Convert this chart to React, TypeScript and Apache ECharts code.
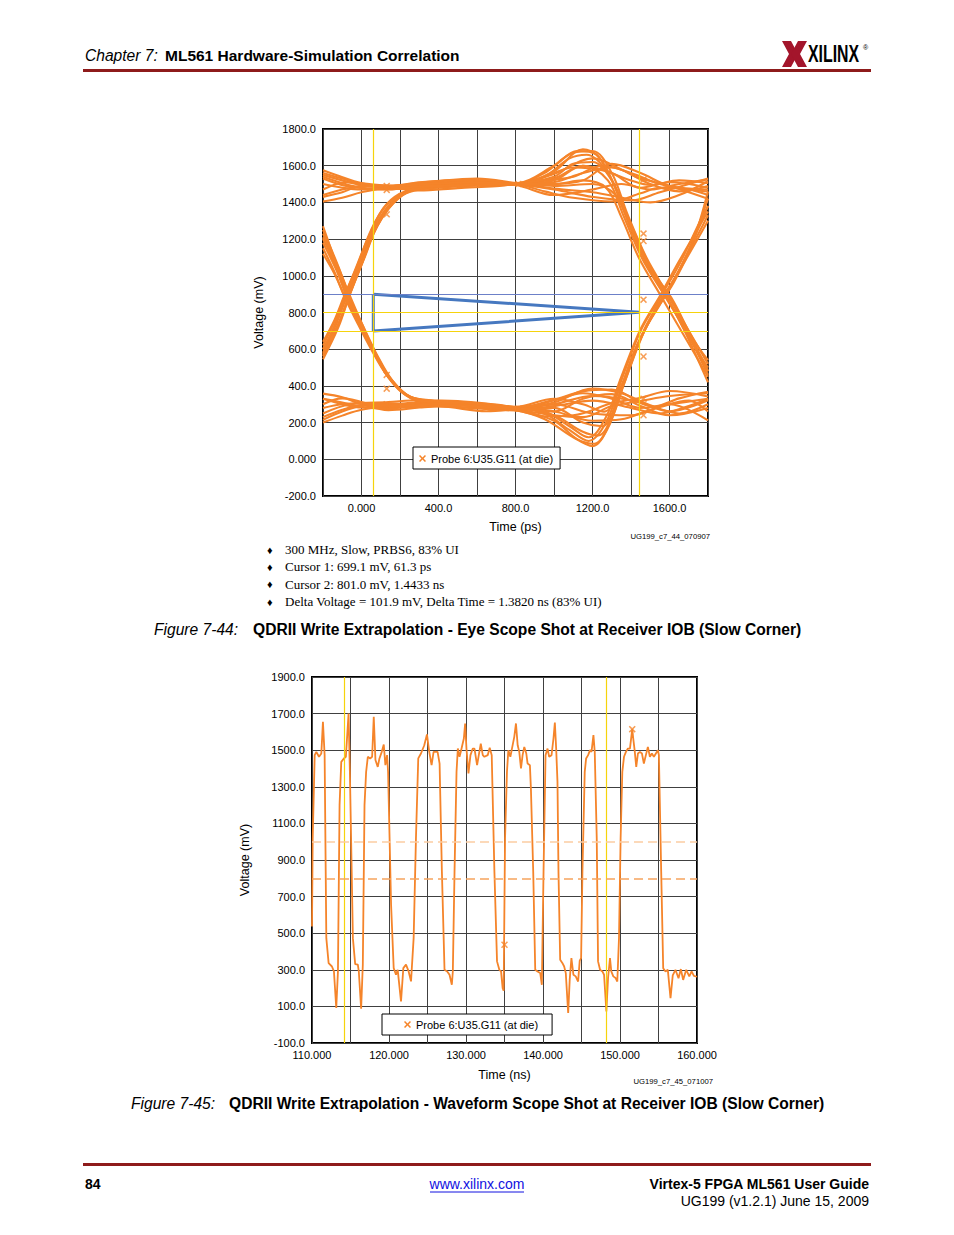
import React, { useEffect, useRef } from 'react';
import * as echarts from 'echarts';

const PROBE = 'Probe 6:U35.G11 (at die)';
const ORANGE = '#F5842A';
const YELLOW = '#F6D30C';
const BLUE = '#4678C0';
const GRIDC = '#404040';
const X_PATH = 'path://M0,1.5L1.5,0L5,3.5L8.5,0L10,1.5L6.5,5L10,8.5L8.5,10L5,6.5L1.5,10L0,8.5L3.5,5Z';
const SANS = "'Liberation Sans', Arial, Helvetica, sans-serif";
const SERIF = "'Liberation Serif', 'Times New Roman', serif";

// ---------- Eye diagram (Figure 7-44) ----------
const eyeXLabelled = [0, 400, 800, 1200, 1600];
const eyeCursorTimes = [61.3, 1443.3];
const eyeCursorVolts = [699.1, 801.0];
const eyeMaskLevel = 900;
const eyeMask = [[61.3, 900], [1443.3, 801.0], [61.3, 699.1], [61.3, 900]];

const eyeStayHigh = [
  [[-200, 1575], [-120, 1545], [0, 1505], [140, 1482], [300, 1490], [500, 1505], [700, 1512], [800, 1502], [950, 1540], [1100, 1590], [1250, 1575], [1400, 1520], [1500, 1495], [1650, 1520], [1800, 1505]],
  [[-200, 1405], [-100, 1425], [0, 1455], [140, 1478], [300, 1465], [500, 1478], [700, 1488], [800, 1498], [950, 1460], [1100, 1425], [1300, 1405], [1450, 1450], [1550, 1480], [1700, 1470], [1800, 1440]],
  [[-200, 1530], [-80, 1490], [140, 1470], [300, 1500], [500, 1522], [650, 1515], [800, 1497], [1000, 1510], [1150, 1560], [1300, 1590], [1450, 1530], [1600, 1490], [1800, 1420]],
  [[-200, 1470], [-80, 1510], [140, 1492], [350, 1512], [600, 1530], [800, 1505], [1000, 1475], [1200, 1455], [1380, 1420], [1500, 1400], [1650, 1440], [1800, 1515]],
  [[-200, 1550], [-100, 1520], [0, 1495], [140, 1478], [300, 1485], [500, 1495], [700, 1500], [800, 1500], [950, 1520], [1100, 1540], [1250, 1600], [1400, 1560], [1550, 1500], [1700, 1470], [1800, 1460]],
  [[-200, 1440], [-100, 1470], [0, 1488], [140, 1484], [300, 1475], [500, 1488], [700, 1500], [800, 1495], [1000, 1440], [1200, 1470], [1350, 1500], [1500, 1470], [1650, 1500], [1800, 1525]],
];

const eyeStayLow = [
  [[-200, 200], [-100, 238], [0, 270], [140, 288], [300, 302], [500, 312], [700, 292], [800, 280], [1000, 325], [1150, 370], [1300, 380], [1450, 310], [1600, 262], [1800, 322]],
  [[-200, 358], [-100, 338], [0, 300], [140, 268], [300, 282], [500, 298], [700, 268], [800, 266], [950, 235], [1100, 240], [1300, 305], [1450, 335], [1600, 372], [1800, 342]],
  [[-200, 250], [-60, 300], [140, 312], [300, 322], [500, 318], [700, 298], [800, 284], [1000, 262], [1200, 210], [1350, 218], [1480, 262], [1600, 300], [1800, 212]],
  [[-200, 300], [-100, 332], [140, 280], [400, 288], [650, 262], [800, 276], [1000, 300], [1200, 345], [1400, 322], [1520, 288], [1650, 332], [1800, 368]],
  [[-200, 330], [-100, 300], [0, 282], [140, 295], [300, 310], [500, 300], [700, 285], [800, 278], [1000, 260], [1150, 330], [1300, 355], [1450, 290], [1600, 240], [1800, 280]],
  [[-200, 215], [-100, 260], [0, 290], [140, 305], [300, 295], [500, 285], [700, 275], [800, 272], [1000, 290], [1200, 320], [1400, 280], [1550, 250], [1700, 290], [1800, 330]],
];

const eyeRiseThenHigh = [
  [[-200, 580], [-130, 740], [-76, 890], [0, 1075], [61, 1235], [140, 1370], [230, 1455], [330, 1492], [500, 1500], [700, 1515], [800, 1500], [1000, 1530], [1150, 1600], [1300, 1560], [1450, 1480], [1600, 1510], [1800, 1480]],
  [[-200, 640], [-140, 760], [-90, 890], [-20, 1060], [50, 1250], [130, 1390], [230, 1462], [350, 1480], [550, 1490], [800, 1495], [1000, 1470], [1200, 1430], [1400, 1410], [1550, 1455], [1800, 1530]],
  [[-200, 545], [-120, 720], [-60, 900], [20, 1110], [80, 1270], [160, 1400], [260, 1470], [400, 1505], [650, 1520], [800, 1503], [1000, 1555], [1200, 1640], [1350, 1580], [1500, 1500], [1650, 1460], [1800, 1490]],
  [[-200, 600], [-150, 700], [-100, 850], [-30, 1040], [40, 1220], [120, 1375], [220, 1450], [330, 1485], [550, 1505], [800, 1498], [1000, 1500], [1150, 1520], [1300, 1610], [1450, 1560], [1600, 1490], [1800, 1470]],
];

const eyeRiseThenFall = [
  [[-200, 600], [-130, 750], [-76, 895], [0, 1070], [61, 1230], [140, 1365], [240, 1460], [350, 1485], [550, 1498], [800, 1500], [950, 1560], [1100, 1670], [1200, 1680], [1300, 1560], [1380, 1340], [1480, 1100], [1590, 900], [1700, 700], [1800, 520]],
  [[-200, 560], [-110, 760], [-60, 900], [10, 1090], [70, 1250], [150, 1385], [250, 1468], [400, 1490], [600, 1510], [800, 1497], [1000, 1520], [1150, 1600], [1280, 1520], [1360, 1330], [1460, 1090], [1570, 900], [1690, 690], [1800, 460]],
  [[-200, 620], [-140, 750], [-85, 890], [-10, 1070], [55, 1240], [135, 1375], [230, 1450], [380, 1480], [600, 1495], [800, 1502], [1000, 1490], [1200, 1500], [1320, 1440], [1400, 1260], [1500, 1040], [1610, 880], [1720, 660], [1800, 540]],
  [[-200, 570], [-120, 740], [-70, 880], [5, 1075], [65, 1235], [145, 1372], [240, 1455], [360, 1485], [600, 1500], [800, 1500], [950, 1540], [1080, 1640], [1170, 1660], [1280, 1560], [1360, 1360], [1450, 1130], [1560, 920], [1680, 720], [1800, 480]],
];

const eyeFallThenLow = [
  [[-200, 1210], [-130, 1040], [-76, 885], [0, 720], [61, 590], [140, 445], [230, 350], [330, 305], [500, 300], [700, 292], [800, 278], [1000, 310], [1200, 385], [1350, 360], [1500, 295], [1650, 250], [1800, 300]],
  [[-200, 1150], [-140, 1020], [-90, 890], [-20, 740], [50, 600], [130, 460], [230, 355], [350, 315], [550, 305], [800, 272], [1000, 240], [1150, 230], [1300, 290], [1450, 318], [1600, 345], [1800, 360]],
  [[-200, 1250], [-120, 1050], [-60, 880], [20, 700], [80, 570], [160, 430], [260, 335], [400, 300], [650, 275], [800, 282], [1000, 300], [1200, 250], [1400, 240], [1550, 285], [1700, 320], [1800, 260]],
  [[-200, 1270], [-150, 1120], [-100, 960], [-30, 800], [40, 640], [120, 480], [220, 360], [330, 312], [550, 298], [800, 276], [1000, 320], [1150, 360], [1300, 330], [1450, 280], [1600, 300], [1800, 330]],
];

const eyeFallThenRise = [
  [[-200, 1180], [-130, 1030], [-76, 888], [0, 725], [61, 595], [140, 450], [240, 345], [350, 310], [550, 300], [800, 268], [950, 220], [1100, 120], [1200, 72], [1280, 170], [1360, 400], [1460, 680], [1560, 860], [1660, 1050], [1800, 1330]],
  [[-200, 1230], [-110, 1020], [-60, 890], [10, 720], [70, 585], [150, 440], [250, 342], [400, 312], [600, 298], [800, 285], [1000, 240], [1150, 150], [1230, 130], [1310, 260], [1400, 540], [1500, 760], [1600, 930], [1700, 1140], [1800, 1420]],
  [[-200, 1120], [-140, 1010], [-85, 885], [-10, 735], [55, 600], [135, 455], [230, 350], [380, 318], [600, 285], [800, 274], [1000, 280], [1150, 200], [1250, 180], [1330, 330], [1420, 590], [1520, 800], [1620, 960], [1720, 1180], [1800, 1460]],
  [[-200, 1200], [-120, 1035], [-70, 885], [5, 722], [65, 592], [145, 448], [245, 343], [380, 308], [600, 292], [800, 280], [950, 250], [1080, 160], [1180, 100], [1270, 200], [1350, 430], [1450, 700], [1550, 880], [1650, 1060], [1760, 1300], [1800, 1380]],
];

const eyeLowThenRise = [
  [[-200, 230], [-100, 270], [0, 295], [140, 300], [300, 288], [500, 295], [700, 280], [800, 272], [1000, 210], [1120, 110], [1210, 85], [1290, 200], [1370, 430], [1470, 700], [1570, 890], [1680, 1080], [1800, 1300]],
  [[-200, 330], [-100, 310], [0, 285], [140, 276], [300, 300], [600, 305], [800, 286], [1000, 330], [1150, 300], [1260, 260], [1340, 380], [1430, 620], [1530, 830], [1630, 990], [1730, 1210], [1800, 1380]],
  [[-200, 280], [-100, 300], [0, 305], [140, 290], [300, 295], [500, 310], [700, 288], [800, 278], [950, 260], [1080, 180], [1180, 120], [1270, 230], [1350, 450], [1450, 710], [1550, 890], [1650, 1080], [1800, 1350]],
];

const eyeHighThenFall = [
  [[-200, 1540], [-100, 1505], [0, 1480], [140, 1472], [300, 1488], [500, 1492], [700, 1508], [800, 1500], [1000, 1570], [1150, 1690], [1230, 1650], [1320, 1480], [1400, 1280], [1500, 1050], [1600, 880], [1700, 690], [1800, 480]],
  [[-200, 1430], [-100, 1455], [0, 1490], [140, 1488], [300, 1510], [600, 1525], [800, 1506], [1000, 1540], [1100, 1610], [1200, 1620], [1300, 1520], [1370, 1350], [1460, 1120], [1560, 930], [1660, 740], [1800, 420]],
  [[-200, 1500], [-100, 1480], [0, 1470], [140, 1480], [300, 1500], [500, 1510], [700, 1500], [800, 1502], [1000, 1600], [1120, 1680], [1220, 1660], [1310, 1500], [1390, 1300], [1480, 1080], [1580, 900], [1680, 700], [1800, 500]],
  [[-200, 1560], [-100, 1530], [0, 1500], [140, 1490], [300, 1498], [600, 1510], [800, 1500], [1000, 1500], [1150, 1520], [1270, 1480], [1350, 1320], [1440, 1100], [1550, 900], [1650, 720], [1800, 450]],
];

const eyeMarkers = [
  [131, 1490], [131, 1468], [131, 1335], [131, 460], [131, 385], [131, 300], [815, 1500], [815, 276],
  [1465, 1525], [1465, 1230], [1465, 1190], [1465, 870], [1465, 560], [1465, 330], [1465, 240],
];

// ---------- Waveform (Figure 7-45) ----------
const waveYTicks = [-100, 100, 300, 500, 700, 900, 1100, 1300, 1500, 1700, 1900];
const waveXLabelled = [110, 120, 130, 140, 150, 160];
const waveCursorTimes = [114.2, 148.2];
const waveThresholdHi = 1000;
const waveThresholdLo = 800;
const waveMarkers = [[135.0, 437], [151.59, 1615]];

const waveTimes = [
  110.00, 110.09, 110.35, 110.56, 110.91, 111.21, 111.42, 111.64, 111.86, 112.16,
  112.59, 112.85, 113.15, 113.37, 113.58, 113.80, 114.14, 114.40, 114.75, 114.92,
  115.31, 115.61, 115.95, 116.08, 116.38, 116.60, 116.82, 117.03, 117.25, 117.55,
  117.81, 118.02, 118.24, 118.54, 118.76, 119.06, 119.32, 119.53, 119.75, 119.88,
  120.27, 120.61, 120.91, 121.13, 121.56, 121.86, 122.21, 122.55, 122.86, 123.20,
  123.50, 123.80, 124.15, 124.58, 124.93, 125.23, 125.53, 125.79, 126.31, 126.57,
  126.87, 127.21, 127.56, 127.86, 128.16, 128.29, 128.51, 128.77, 128.94, 129.16,
  129.37, 129.72, 129.89, 130.06, 130.32, 130.58, 130.88, 131.10, 131.44, 131.66,
  131.92, 132.18, 132.39, 132.82, 133.08, 133.34, 133.69, 134.03, 134.33, 134.55,
  134.76, 134.89, 135.07, 135.32, 135.50, 135.76, 135.93, 136.27, 136.49, 136.71,
  136.92, 137.14, 137.35, 137.57, 137.83, 138.00, 138.30, 138.43, 138.73, 138.99,
  139.29, 139.64, 139.85, 140.07, 140.33, 140.59, 140.80, 141.11, 141.36, 141.54,
  141.71, 141.88, 142.01, 142.23, 142.53, 142.75, 142.96, 143.27, 143.47, 143.69,
  143.95, 144.25, 144.56, 144.77, 144.95, 145.12, 145.42, 145.60, 145.86, 146.11,
  146.30, 146.55, 146.72, 146.98, 147.15, 147.41, 147.71, 147.93, 148.23, 148.45,
  148.70, 148.87, 149.13, 149.43, 149.65, 149.87, 150.08, 150.30, 150.52, 150.77,
  151.03, 151.29, 151.59, 151.72, 151.90, 152.11, 152.33, 152.59, 152.85, 153.10,
  153.36, 153.62, 153.88, 154.14, 154.40, 154.66, 154.92, 155.05, 155.35, 155.61,
  155.91, 156.21, 156.56, 156.85, 157.20, 157.60, 157.90, 158.20, 158.60, 159.00,
  159.30, 159.60, 160.00,
];

const waveMv = [
  537, 1018, 1473, 1491, 1464, 1482, 1655, 1473, 473, 336,
  318, 291, 91, 291, 1200, 1436, 1455, 1464, 1700, 1382,
  473, 331, 328, 291, 87, 328, 1200, 1382, 1464, 1455,
  1464, 1682, 1446, 1409, 1455, 1491, 1531, 1418, 1473, 1382,
  655, 309, 273, 300, 127, 309, 328, 291, 237, 473,
  1018, 1455, 1482, 1527, 1586, 1491, 1418, 1491, 1491, 1427,
  836, 300, 291, 273, 218, 291, 836, 1382, 1509, 1464,
  1500, 1564, 1646, 1509, 1373, 1473, 1509, 1509, 1418, 1473,
  1536, 1473, 1464, 1473, 1513, 1473, 836, 346, 300, 291,
  200, 186, 1018, 1382, 1500, 1464, 1500, 1573, 1646, 1527,
  1491, 1400, 1473, 1518, 1482, 1427, 1418, 1291, 836, 300,
  291, 282, 218, 836, 1473, 1509, 1464, 1473, 1564, 1651,
  1509, 1327, 836, 355, 336, 318, 282, 64, 246, 364,
  273, 264, 236, 350, 364, 836, 1382, 1455, 1473, 1500,
  1491, 1582, 1491, 1018, 346, 300, 291, 273, 73, 255,
  364, 291, 264, 255, 236, 473, 1018, 1382, 1464, 1491,
  1509, 1509, 1615, 1564, 1500, 1409, 1482, 1491, 1482, 1427,
  1473, 1518, 1464, 1482, 1464, 1482, 1500, 1473, 836, 309,
  291, 300, 145, 270, 300, 254, 304, 245, 300, 264,
  291, 267, 262,
];

// ---------- Page texts ----------
const bulletLines = [
  '300 MHz, Slow, PRBS6, 83% UI',
  'Cursor 1: 699.1 mV, 61.3 ps',
  'Cursor 2: 801.0 mV, 1.4433 ns',
  'Delta Voltage = 101.9 mV, Delta Time = 1.3820 ns (83% UI)',
];

function txt(text: string, x: number, y: number, o: any = {}) {
  return {
    type: 'text', x, y, silent: true, z: 10,
    scaleX: o.scaleX || 1,
    style: {
      text, fill: o.fill || '#000', fontSize: o.size || 15, fontFamily: o.family || SANS,
      fontWeight: o.weight || 'normal', fontStyle: o.style || 'normal',
      align: o.align || 'left', verticalAlign: 'middle',
    },
  };
}

function buildOption() {
  const eyeTraces = [
    ...eyeStayHigh, ...eyeStayLow, ...eyeRiseThenHigh, ...eyeRiseThenFall,
    ...eyeFallThenLow, ...eyeFallThenRise, ...eyeLowThenRise, ...eyeHighThenFall,
  ];
  const eyeSeries = eyeTraces.map((d) => ({
    type: 'line', name: PROBE, xAxisIndex: 0, yAxisIndex: 0, data: d,
    smooth: 0.35, symbol: 'none', silent: true,
    lineStyle: { color: ORANGE, width: 2.1 }, itemStyle: { color: ORANGE }, z: 2,
  }));

  const eyeFmt = (v: number) => (v === 0 ? '0.000' : v.toFixed(1));
  const cursorLine = (c: string, w: number) => ({ color: c, width: w, type: 'solid' });

  const series: any[] = [
    ...eyeSeries,
    {
      type: 'line', name: 'mask', xAxisIndex: 0, yAxisIndex: 0, data: eyeMask,
      symbol: 'none', silent: true, lineStyle: { color: BLUE, width: 3 }, z: 4,
      markLine: {
        silent: true, symbol: ['none', 'none'], label: { show: false }, animation: false,
        data: [
          ...eyeCursorTimes.map((t) => ({ xAxis: t, lineStyle: cursorLine(YELLOW, 1.2) })),
          ...eyeCursorVolts.map((v) => ({ yAxis: v, lineStyle: cursorLine(YELLOW, 1.2) })),
          { yAxis: eyeMaskLevel, lineStyle: cursorLine('#6C80C8', 1) },
        ],
      },
    },
    {
      type: 'scatter', name: PROBE, xAxisIndex: 0, yAxisIndex: 0, data: eyeMarkers,
      symbol: X_PATH, symbolSize: 7, silent: true, itemStyle: { color: ORANGE }, z: 3,
    },
    {
      type: 'line', name: PROBE, xAxisIndex: 1, yAxisIndex: 1,
      data: waveTimes.map((t, i) => [t, waveMv[i]]),
      symbol: 'none', silent: true, lineStyle: { color: ORANGE, width: 1.8 }, itemStyle: { color: ORANGE }, z: 3,
      markLine: {
        silent: true, symbol: ['none', 'none'], label: { show: false }, animation: false,
        data: [
          ...waveCursorTimes.map((t) => ({ xAxis: t, lineStyle: cursorLine(YELLOW, 1.2) })),
          { yAxis: waveThresholdHi, lineStyle: { color: '#FBCDA3', width: 1.5, type: [9, 5] } },
          { yAxis: waveThresholdLo, lineStyle: { color: '#F6A45E', width: 1.5, type: [9, 5] } },
        ],
      },
    },
    {
      type: 'scatter', name: PROBE, xAxisIndex: 1, yAxisIndex: 1, data: waveMarkers,
      symbol: X_PATH, symbolSize: 7, silent: true, itemStyle: { color: ORANGE }, z: 4,
    },
  ];

  const graphic: any[] = [
    // header
    txt('Chapter 7:', 85, 55, { style: 'italic', size: 15.6 }),
    txt('ML561 Hardware-Simulation Correlation', 165, 55, { weight: 'bold', size: 15.5 }),
    { type: 'rect', silent: true, shape: { x: 83, y: 69, width: 788, height: 3 }, style: { fill: '#8E1B1B' } },
    // logo
    { type: 'polygon', silent: true, shape: { points: [[782, 41], [791, 41], [798, 54], [791, 67], [782, 67], [789, 54]] }, style: { fill: '#A3152B' } },
    { type: 'polygon', silent: true, shape: { points: [[807, 41], [798, 41], [791, 54], [798, 67], [807, 67], [800, 54]] }, style: { fill: '#A3152B' } },
    txt('XILINX', 808, 54, { weight: 'bold', size: 24, scaleX: 0.66 }),
    txt('®', 863, 47, { size: 7 }),
    // figure 1 extra texts
    txt('UG199_c7_44_070907', 710, 536, { size: 7.7, align: 'right' }),
    ...bulletLines.flatMap((l, i) => [
      txt('♦', 267, 549.5 + i * 17.4, { size: 11, family: SANS }),
      txt(l, 285, 549.5 + i * 17.4, { size: 13, family: SERIF }),
    ]),
    txt('Figure 7-44:', 154, 629, { style: 'italic', size: 15.6 }),
    txt('QDRII Write Extrapolation - Eye Scope Shot at Receiver IOB (Slow Corner)', 253, 629, { weight: 'bold', size: 15.6 }),
    // figure 2 extra texts
    txt('UG199_c7_45_071007', 713, 1081, { size: 7.7, align: 'right' }),
    txt('Figure 7-45:', 131, 1103, { style: 'italic', size: 15.6 }),
    txt('QDRII Write Extrapolation - Waveform Scope Shot at Receiver IOB (Slow Corner)', 229, 1103, { weight: 'bold', size: 15.6 }),
    // footer
    { type: 'rect', silent: true, shape: { x: 83, y: 1163, width: 788, height: 3 }, style: { fill: '#8E1B1B' } },
    txt('84', 85, 1184, { weight: 'bold', size: 14 }),
    txt('www.xilinx.com', 477, 1184, { size: 14, fill: '#1010E0', align: 'center' }),
    { type: 'line', silent: true, shape: { x1: 430, y1: 1192, x2: 524, y2: 1192 }, style: { stroke: '#1010E0', lineWidth: 1 } },
    txt('Virtex-5 FPGA ML561 User Guide', 869, 1184, { weight: 'bold', size: 14, align: 'right' }),
    txt('UG199 (v1.2.1) June 15, 2009', 869, 1201, { size: 14, align: 'right' }),
  ];

  const axisLabelBase = { color: '#000', fontSize: 11, fontFamily: SANS, showMinLabel: true, showMaxLabel: true, hideOverlap: false };
  const splitLineBase = { show: true, lineStyle: { color: GRIDC, width: 1 } };
  const nameStyle = { color: '#000', fontSize: 12.5, fontFamily: SANS };

  return {
    animation: false,
    backgroundColor: '#fff',
    grid: [
      { left: 323, top: 129, width: 385, height: 367, show: true, borderColor: '#000', borderWidth: 2, backgroundColor: 'transparent' },
      { left: 312, top: 677, width: 385, height: 366, show: true, borderColor: '#000', borderWidth: 2, backgroundColor: 'transparent' },
    ],
    xAxis: [
      {
        type: 'value', gridIndex: 0, min: -200, max: 1800, interval: 200,
        axisLine: { show: false }, axisTick: { show: false }, splitLine: splitLineBase,
        axisLabel: { ...axisLabelBase, margin: 6, formatter: (v: number) => (eyeXLabelled.includes(v) ? eyeFmt(v) : '') },
        name: 'Time (ps)', nameLocation: 'middle', nameGap: 24, nameTextStyle: nameStyle,
      },
      {
        type: 'value', gridIndex: 1, min: 110, max: 160, interval: 5,
        axisLine: { show: false }, axisTick: { show: false }, splitLine: splitLineBase,
        axisLabel: { ...axisLabelBase, margin: 6, formatter: (v: number) => (waveXLabelled.includes(v) ? v.toFixed(3) : '') },
        name: 'Time (ns)', nameLocation: 'middle', nameGap: 25, nameTextStyle: nameStyle,
      },
    ],
    yAxis: [
      {
        type: 'value', gridIndex: 0, min: -200, max: 1800, interval: 200,
        axisLine: { show: false }, axisTick: { show: false }, splitLine: splitLineBase,
        axisLabel: { ...axisLabelBase, margin: 7, formatter: eyeFmt },
        name: 'Voltage (mV)', nameLocation: 'middle', nameGap: 58, nameRotate: 90, nameTextStyle: nameStyle,
      },
      {
        type: 'value', gridIndex: 1, min: -100, max: 1900,
        axisLine: { show: false }, axisTick: { show: false, customValues: waveYTicks }, splitLine: splitLineBase,
        axisLabel: { ...axisLabelBase, margin: 7, customValues: waveYTicks, formatter: (v: number) => v.toFixed(1) },
        name: 'Voltage (mV)', nameLocation: 'middle', nameGap: 61, nameRotate: 90, nameTextStyle: nameStyle,
      },
    ],
    legend: [
      {
        left: 413, top: 447, orient: 'horizontal', selectedMode: false,
        data: [{ name: PROBE, icon: X_PATH }], itemWidth: 7, itemHeight: 7,
        borderColor: '#000', borderWidth: 1, backgroundColor: '#fff', padding: [6, 7, 5, 6],
        textStyle: { color: '#000', fontSize: 11, fontFamily: SANS }, z: 20,
      },
      {
        left: 382, top: 1014, orient: 'horizontal', selectedMode: false,
        data: [{ name: PROBE, icon: X_PATH }], itemWidth: 7, itemHeight: 7,
        borderColor: '#000', borderWidth: 1, backgroundColor: '#fff', padding: [5, 14, 5, 22],
        textStyle: { color: '#000', fontSize: 11, fontFamily: SANS }, z: 20,
      },
    ],
    graphic,
    series,
  };
}

export default function App() {
  const ref = useRef<HTMLDivElement>(null);
  useEffect(() => {
    if (!ref.current) return;
    const chart = echarts.init(ref.current, null, { renderer: 'svg' });
    chart.setOption(buildOption() as any);
    return () => chart.dispose();
  }, []);
  return (
    <div
      ref={ref}
      style={{ position: 'absolute', left: 0, top: 0, width: 954, height: 1235, background: '#fff' }}
    />
  );
}
